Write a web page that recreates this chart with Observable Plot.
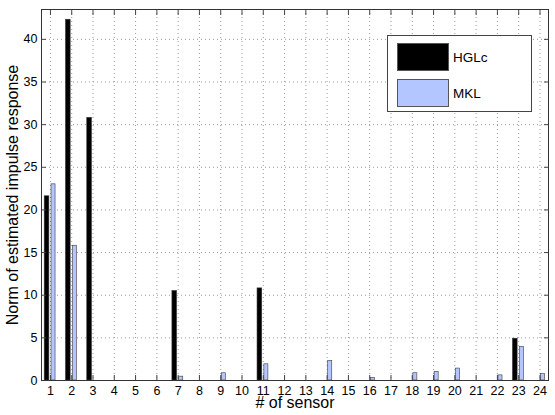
<!DOCTYPE html>
<html>
<head>
<meta charset="utf-8">
<script src="https://cdn.jsdelivr.net/npm/d3@7"></script>
<script src="https://cdn.jsdelivr.net/npm/@observablehq/plot@0.6"></script>
<style>
  body { margin: 0; background: #fff; }
  #chart { width: 555px; height: 415px; }
  svg { font-family: "Liberation Sans", Arial, Helvetica, sans-serif; }
</style>
</head>
<body>
<div id="chart"></div>
<script>
const sensors = [1,2,3,4,5,6,7,8,9,10,11,12,13,14,15,16,17,18,19,20,21,22,23,24];
const hglc = [21.6,42.3,30.8,0,0,0,10.5,0,0,0,10.8,0,0,0,0,0,0,0,0,0,0,0,4.9,0];
const mkl  = [23.0,15.8,0,0,0,0,0.45,0,0.85,0,1.9,0,0,2.3,0,0.3,0,0.85,1.0,1.4,0,0.6,3.95,0.75];
const seriesNames = ["HGLc", "MKL"];
const seriesColors = ["#000000", "#b3c6ff"];
const yTicks = [0,5,10,15,20,25,30,35,40];
const xLabel = "# of sensor";
const yLabel = "Norm of estimated impulse response";

const rows = [];
sensors.forEach((s, i) => {
  rows.push({sensor: s, series: seriesNames[0], value: hglc[i], lo: -0.27, hi: -0.05});
  rows.push({sensor: s, series: seriesNames[1], value: mkl[i], lo: 0.05, hi: 0.24});
});
const bars = rows.filter(d => d.value > 0);

const chart = Plot.plot({
  width: 555,
  height: 415,
  marginLeft: 41,
  marginRight: 7,
  marginTop: 9,
  marginBottom: 35,
  style: {fontFamily: '"Liberation Sans", Arial, Helvetica, sans-serif', color: "#000", background: "#fff"},
  x: {type: "linear", domain: [0.58, 24.4]},
  y: {domain: [0, 43.5]},
  color: {domain: seriesNames, range: seriesColors},
  marks: [
    Plot.gridX(sensors, {stroke: "#999", strokeOpacity: 1, strokeDasharray: "1,3"}),
    Plot.gridY(yTicks, {stroke: "#999", strokeOpacity: 1, strokeDasharray: "1,3"}),
    Plot.rectY(bars, {
      x1: d => d.sensor + d.lo,
      x2: d => d.sensor + d.hi,
      y1: 0,
      y2: "value",
      fill: "series",
      stroke: "#3a3a3a",
      strokeWidth: 0.6
    }),
    Plot.axisX(sensors, {tickSize: 0, tickPadding: 6, fontSize: 12.5, tickFormat: d => String(d), label: null}),
    Plot.axisX(sensors, {tickSize: -5, text: null, label: null, stroke: "#444"}),
    Plot.axisX(sensors, {anchor: "top", tickSize: -5, text: null, label: null, stroke: "#444"}),
    Plot.axisY(yTicks, {tickSize: 0, tickPadding: 4, fontSize: 12.5, label: null}),
    Plot.axisY(yTicks, {tickSize: -5, text: null, label: null, stroke: "#444"}),
    Plot.axisY(yTicks, {anchor: "right", tickSize: -5, text: null, label: null, stroke: "#444"}),
    Plot.frame({stroke: "#333", strokeWidth: 1}),
    Plot.text([xLabel], {frameAnchor: "bottom", textAnchor: "middle", dy: 27, fontSize: 16, fill: "#000"}),
    Plot.text([yLabel], {frameAnchor: "left", textAnchor: "middle", rotate: -90, dx: -29, fontSize: 16, fill: "#000"})
  ]
});

// legend (MATLAB style, inside the axes)
const svg = d3.select(chart);
const lg = svg.append("g").attr("class", "legend").attr("text-anchor", "start");
lg.append("rect").attr("x", 387.5).attr("y", 35.5).attr("width", 144).attr("height", 76)
  .attr("fill", "#fff").attr("stroke", "#444").attr("stroke-width", 1);
seriesNames.forEach((name, i) => {
  const y0 = 43 + i * 36;
  lg.append("rect").attr("x", 397.5).attr("y", y0 + 0.5).attr("width", 51).attr("height", 27)
    .attr("fill", seriesColors[i]).attr("stroke", "#555").attr("stroke-width", 1);
  lg.append("text").attr("x", 453).attr("y", y0 + 14).attr("dy", "0.35em")
    .attr("text-anchor", "start")
    .attr("font-size", 13.5).attr("fill", "#000").text(name);
});

document.getElementById("chart").appendChild(chart);
</script>
</body>
</html>
